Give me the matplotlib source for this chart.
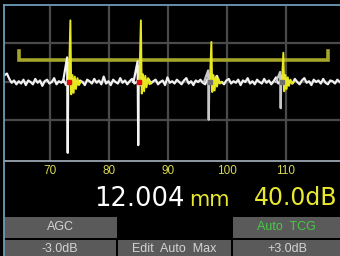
import numpy as np
import matplotlib.pyplot as plt
from matplotlib.patches import Rectangle

# A-scan values (x in mm, amplitude in % screen height, 0 = baseline)
tick_pos = [70, 80, 90, 100, 110]
tick_labels = ["70", "80", "90", "100", "110"]

noise_start = 62.3
noise_step = 0.4
noise = [9, 11, 4, -1, 2, -3, 1, -2, 3, -4, 2, 0, -3, 4, -1, 2, -5, 1, 3, -2,
         0, 5, -3, 1, -1, 3, -4, 2, 6, -2, 1, -3, 2, 0, -4, 3, 1, -2, 4, -1,
         2, -3, 7, -2, 1, -4, 3, 0, -2, 5, -1, 2, -3, 1, 4, -2, 0, 3, -5, 2,
         -1, 4, -2, 1, 3, -3, 0, 2, -4, 6, -1, 1, -2, 3, 0, -3, 2, 5, -2, 1,
         -4, 2, 0, 3, -1, -3, 4, 1, -2, 2, 8, -1, 0, -3, 2, 4, -2, 1, -1, 3,
         -4, 2, 0, 5, -2, 1, -3, 3, 0, -2, 4, -1, 2, -3, 1, 6, -2, 0, 3, -4,
         2, 1, -2, 4, 0, -3, 2, 5, -1, 1, -4, 3, 0, 2, -2, 4, -1, -3, 2,
         1, -2, 3, 0]

echo_pos = [73.2, 85.15, 97.1, 109.3]
marker_colors = ["#e01010", "#e01010", "#707070", "#707070"]

white_dx = [-1.0, -0.3, -0.2, -0.1, 0.0]
white_amp = [[0, 32, -92, 25, 0],
             [0, 27, -82, 20, 0],
             [0, 15, -49, 10, 0],
             [0, 13, -34, 8, 0]]

yellow_dx = [0.0, 0.25, 0.4, 0.6, 0.8, 1.0, 1.2, 1.45, 1.7, 2.0]
yellow_amp = [[0, 80, -16, 9, -14, 7, -9, 5, -4, 0],
              [0, 80, -15, 10, -12, 8, -7, 5, -3, 0],
              [0, 52, -13, 9, -11, 7, -6, 4, -2, 0],
              [0, 38, -12, 9, -9, 6, -5, 3, -2, 0]]

gate_start = 64.7
gate_end = 117.1
gate_level = 28.5
gate_tick = 12

W, H = 340, 256
fig = plt.figure(figsize=(W / 100, H / 100), dpi=100, facecolor="black")


def fx(px):
    return px / W


def fy(py):
    return 1 - py / H


ax = fig.add_axes([fx(4), fy(161), fx(336), 155 / H])
ax.set_facecolor("black")
ax.set_xlim(62.2, 119.15)
ax.set_ylim(-102.6, 98.7)

ax.set_xticks(tick_pos)
ax.set_xticklabels(tick_labels, family="Liberation Sans", fontsize=8.5, color="#d8d850")
ax.set_yticks([-50, 0, 50])
ax.tick_params(length=0, pad=3)
ax.tick_params(axis="y", labelleft=False)
ax.grid(True, color="#4a4a4a", lw=1.6)
ax.set_axisbelow(True)
for s in ["top", "right", "left"]:
    ax.spines[s].set_visible(False)
ax.spines["bottom"].set_color("#a8b4c0")
ax.spines["bottom"].set_linewidth(1.2)

# noise baseline
nx = noise_start + noise_step * np.arange(len(noise))
ax.plot(nx, noise, color="#f0f0f0", lw=1.6, zorder=3)

# gate
ax.plot([gate_start, gate_start, gate_end, gate_end],
        [gate_level + gate_tick, gate_level, gate_level, gate_level + gate_tick],
        color="#a5a52a", lw=2.6, solid_joinstyle="miter", zorder=4)

# echoes
for i, p in enumerate(echo_pos):
    wc = "#f4f4f4" if i < 2 else "#c8c8c8"
    ax.plot([p + d for d in white_dx], white_amp[i], color=wc, lw=1.6, zorder=5)
    ax.plot([p + d for d in yellow_dx], yellow_amp[i], color="#e8e820", lw=1.4, zorder=6)
    ax.plot(p, 0, "s", color=marker_colors[i], ms=3.5, zorder=7)

# frame lines (light blue)
fig.add_artist(plt.Line2D([fx(3.5), fx(3.5)], [0, fy(5)], color="#6f9ab8", lw=1.3))
fig.add_artist(plt.Line2D([fx(3.5), 1], [fy(5), fy(5)], color="#6f9ab8", lw=1.3))

# readouts
fig.text(fx(185), fy(206), "12.004", color="white", fontsize=18.5,
         family="DejaVu Sans", ha="right", va="baseline")
fig.text(fx(189), fy(206), "mm", color="#e8e830", fontsize=15,
         family="DejaVu Sans", ha="left", va="baseline")
fig.text(fx(254), fy(205), "40.0dB", color="#e8e830", fontsize=17,
         family="DejaVu Sans", ha="left", va="baseline")

# buttons
btn_color = "#5a5a5a"
boxes = [(4, 217, 113, 21), (233, 217, 107, 21),
         (4, 240, 112, 16), (118, 240, 113, 16), (233, 240, 107, 16)]
for bx, by, bw, bh in boxes:
    fig.add_artist(Rectangle((fx(bx), fy(by + bh)), bw / W, bh / H,
                             transform=fig.transFigure, color=btn_color, lw=0))

labels = [("AGC", 60, 227.5, "#d4d4d4"), ("Auto  TCG", 286, 227.5, "#44cc44"),
          ("-3.0dB", 60, 249, "#d4d4d4"), ("Edit  Auto  Max", 174, 249, "#d4d4d4"),
          ("+3.0dB", 287, 249, "#d4d4d4")]
for t, x, y, c in labels:
    fig.text(fx(x), fy(y), t, color=c, fontsize=9, family="Liberation Sans",
             ha="center", va="center")

fig.savefig("out.png", dpi=100, facecolor="black")
